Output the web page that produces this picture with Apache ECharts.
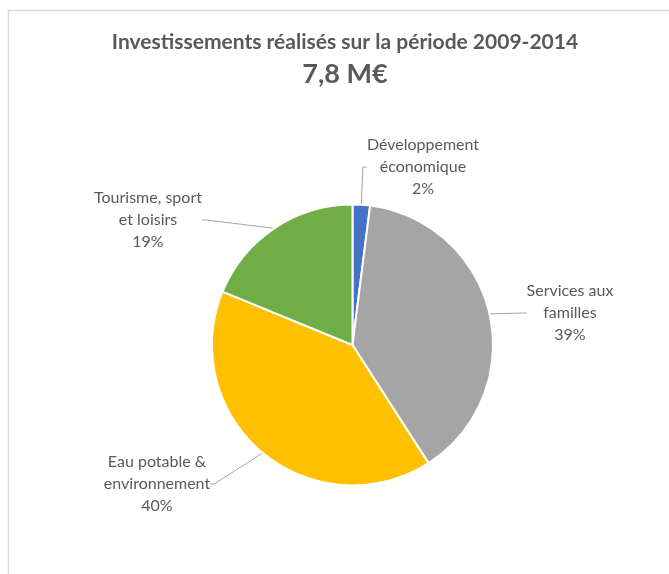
<!DOCTYPE html>
<html>
<head>
<meta charset="utf-8">
<script src="https://cdn.jsdelivr.net/npm/echarts@6/dist/echarts.min.js"></script>
<style>
    html, body { margin: 0; padding: 0; background: #fff; }
    #chart { width: 669px; height: 574px; }
</style>
</head>
<body>
<div id="chart"></div>
<script>
    // données
    const categories = ['Développement\néconomique', 'Services aux\nfamilles', 'Eau potable &\nenvironnement', 'Tourisme, sport\net loisirs'];
    const shares = [2.0, 38.9, 40.3, 18.8];
    const colors = ['#4472C4', '#A5A5A5', '#FFC000', '#70AD47'];
    const titleText = 'Investissements réalisés sur la période 2009-2014';
    const subText = '7,8 M€';

    // positions des étiquettes (centre du bloc de texte)
    const labelPos = [[423, 167], [570, 313], [157, 484], [148, 220]];

    const chart = echarts.init(document.getElementById('chart'));

    let pieData = [];
    for (let i = 0; i < categories.length; i++) {
        pieData.push({ name: categories[i], value: shares[i], itemStyle: { color: colors[i] } });
    }

    chart.setOption({
        backgroundColor: '#fff',
        animation: false,
        title: {
            text: titleText,
            subtext: subText,
            left: 340,
            top: 27,
            textAlign: 'center',
            itemGap: 8,
            textStyle: {
                fontFamily: 'Lato',
                fontWeight: 'bold',
                fontSize: 21,
                color: '#595959'
            },
            subtextStyle: {
                fontFamily: 'Lato',
                fontWeight: 'bold',
                fontSize: 27,
                color: '#595959'
            }
        },
        graphic: [
            { type: 'line', shape: { x1: 8, y1: 10.5, x2: 669, y2: 10.5 }, style: { stroke: '#d9d9d9', lineWidth: 1.5 } },
            { type: 'line', shape: { x1: 8.5, y1: 10, x2: 8.5, y2: 574 }, style: { stroke: '#d9d9d9', lineWidth: 1.5 } }
        ],
        series: [
            {
                type: 'pie',
                center: [352.5, 345],
                radius: 140.5,
                startAngle: 90,
                clockwise: true,
                data: pieData,
                itemStyle: {
                    borderColor: '#fff',
                    borderWidth: 2
                },
                label: {
                    show: true,
                    position: 'outside',
                    fontFamily: 'Lato',
                    fontSize: 16,
                    lineHeight: 22,
                    color: '#595959',
                    align: 'center',
                    formatter: (p) => p.name + '\n' + Math.round(p.percent) + '%'
                },
                labelLine: {
                    show: true,
                    length: 6,
                    length2: 4,
                    lineStyle: { color: '#a6a6a6', width: 1 }
                },
                labelLayout: (params) => {
                    let pos = labelPos[params.dataIndex];
                    return {
                        x: pos[0],
                        y: pos[1],
                        align: 'center',
                        verticalAlign: 'middle'
                    };
                },
                emphasis: { disabled: true }
            }
        ]
    });
</script>
</body>
</html>
